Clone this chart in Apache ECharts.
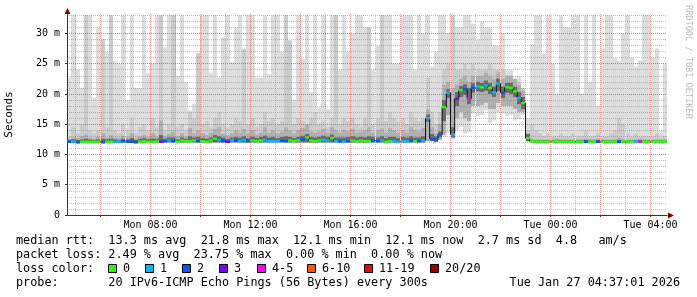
<!DOCTYPE html>
<html><head><meta charset="utf-8">
<script src="https://cdn.jsdelivr.net/npm/echarts@6/dist/echarts.min.js"></script>
<style>html,body{margin:0;padding:0;background:#fff}#c{width:697px;height:297px}</style>
</head><body><div id="c"></div>
<script>
// ---- time base (hours since Mon 00:00), one sample every 10 minutes ----
const startHour = 4.75;
const stepHours = 10 / 60;

// ---- median RTT (ms) ----
const median = [
12.1,12.1,12.0,12.1,12.1,12.1,12.1,12.1,12.0,12.1,
12.1,12.1,12.1,12.2,12.1,12.1,12.0,12.1,12.2,12.1,
12.1,12.2,12.1,12.2,12.3,12.2,12.1,12.3,12.2,12.2,
12.3,12.2,12.2,12.1,12.3,12.6,12.4,12.2,12.1,12.3,
12.3,12.2,12.4,12.2,12.3,12.2,12.3,12.4,12.2,12.2,
12.2,12.3,12.2,12.3,12.2,12.3,12.5,12.8,12.3,12.2,
12.3,12.4,12.3,12.7,12.2,12.2,12.1,12.2,12.3,12.2,
12.3,12.2,12.2,12.3,12.2,12.3,12.1,12.2,12.2,12.1,
12.2,12.2,12.3,12.2,12.2,12.3,16.0,12.6,12.4,13.3,
17.8,20.2,13.3,19.2,20.6,20.8,19.2,21.0,21.2,21.1,
21.4,21.0,20.3,21.7,20.2,21.1,21.0,20.4,19.3,18.5,
12.7,12.2,12.1,12.1,12.1,12.1,12.1,12.2,12.1,12.1,
12.1,12.1,12.1,12.1,12.1,12.1,12.1,12.1,12.1,12.1,
12.1,12.1,12.1,12.1,12.1,12.1,12.1,12.1,12.1,12.1,
12.1,12.1,12.1,12.1];

// ---- lost pings (of 20) per sample ----
const loss = [
2,1,2,0,0,0,0,0,2,0,
0,1,1,2,2,2,2,0,0,0,
0,0,3,2,1,2,0,0,0,0,
0,2,0,0,0,0,1,2,3,1,
2,1,1,2,0,0,0,1,1,1,
1,2,2,0,0,0,2,0,0,0,
0,1,1,0,1,2,1,2,0,0,
0,0,0,2,2,1,0,0,1,1,
1,1,2,0,2,1,1,2,2,2,
0,1,1,3,0,2,4,2,1,0,
1,0,1,1,2,0,0,0,1,0,
0,0,0,0,0,0,0,0,0,0,
0,0,0,0,2,0,0,2,0,0,
0,0,2,0,0,0,1,4,0,0,
0,0,0,0];

// ---- smoke: slowest / fastest ping (ms) ----
const smokeMax = [
22.7,33,24,21,33,33,19.4,31,29,27,
33,25.5,25,33,19,33,21,21,33,23.5,
25,33,33,27.7,33,33,23,33,22,17.3,
18.4,26.7,33,33,23.5,33,22.7,29.3,33,25.3,
31,33,27.4,33,33,22.7,22.7,33,23.3,33,
33,27,33,28.8,19,33,25.8,33,20.3,33,
17.8,33,17.5,33,33,24,33,27,30,33,
33,31,31,24,28,33,33,33,25,25,
33,33,33,24,33,30,33,24.5,27,33,
33,30,33,31,31,33,33,31.6,29,32,
31,31,28,28,30,24,24,22,23,21,
16,28.3,33,33,26.7,33,25,20,33,31,
31,33,33,20,33,22,33,18,27.5,33,
33,26,25.5,30,33,26,24.5,25.5,33,33,
26,27.5,14,25];

const smokeMin = [
12,12,12,12,12,12,12,12,12,12,
12,12,12,12,12,12,12,12,12,12,
12,12,12,12,12,12,12,12,12,12,
12,12,12,12,12,12,12,12,12,12,
12,12,12,12,12,12,12,12,12,12,
12,12,12,12,12,12,12,12,12,12,
12,12,12,12,12,12,12,12,12,12,
12,12,12,12,12,12,12,12,12,12,
12,12,12,12,12,12,12.2,12.2,12.1,12.3,
12.9,13.5,12.5,14.0,14.5,13.5,13.7,16.8,16.3,16.5,
17.3,15.2,15.6,16.9,16.8,16.3,16.5,15.6,15.8,16.5,
12.1,12,12,12,12,12,12,12,12,12,
12,12,12,12,12,12,12,12,12,12,
12,12,12,12,12,12,12,12,12,12,
12,12,12,12];

// ---- smoke: inner ping bands (ms) ----
const midLo = [
12,12,12,12,12,12,12,12,12,12,
12,12,12,12,12,12,12,12,12,12,
12,12,12,12,12,12,12,12,12,12,
12,12,12,12,12,12,12,12,12,12,
12,12,12,12,12,12,12,12,12,12,
12,12,12,12,12,12,12,12,12,12,
12,12,12,12,12,12,12,12,12,12,
12,12,12,12,12,12,12,12,12,12,
12,12,12,12,12,12,12.2,12.2,12.1,12.5,
13.3,16.5,12.8,16.0,17.0,16.0,15.5,18.0,18.0,18.2,
18.5,17.5,17.5,18.5,18.0,18.0,18.0,17.5,17.0,17.0,
12.2,12,12,12,12,12,12,12,12,12,
12,12,12,12,12,12,12,12,12,12,
12,12,12,12,12,12,12,12,12,12,
12,12,12,12];

const mid2Hi = [
13.0,14.5,13.5,15,33,14,13.5,14,29,14.5,
33,14,13.5,15,14,16,13.5,14.5,15,14,
16,14.5,33,14,15,33,14.5,15,14,17,
16,26.7,15,15.5,14.5,16,17,15,14.5,15,
16,15.5,27.4,15,16,14.5,15,17,15.5,16,
15,15.5,33,28.8,15,16,15.5,14.5,16,17,
15,15.5,14.5,16,33,15,16,15.5,16,15,
14.5,16,31,15,16,33,15.5,17,16,15.5,
16,15,17,16,15.5,16,22.7,17,15,17,
24,25,33,24,24,25,24,25,24,24,
24,25,24,24,24,23,23,22,22,21,
14,15,14,13.5,13,13.5,13,13,13.5,13,
13,13.5,13,13,14,13,13,13.5,13,13,
13.5,14,16,15,13.5,13,13.5,13,13,13,
13,13.5,12.8,13];

const mid3Hi = [
12.6,12.8,12.7,13,13.3,12.8,12.7,12.9,13.5,12.8,
13.2,12.8,12.7,13.1,12.9,13.5,12.7,13,13.2,12.9,
13.5,13,15.6,13,13.4,13.8,13,13.5,13,14.4,
13.5,14,13.5,13.2,13.6,14.2,14.5,13.4,13.2,13.5,
14,13.6,14.2,13.5,14,13.3,13.6,14.5,13.6,14,
13.5,13.8,14.5,14,13.5,14,14.4,15,13.8,13.6,
13.8,14.2,13.6,14.5,14,13.6,14,13.8,14.2,13.6,
13.8,14,14.5,13.6,14,14.3,13.6,14.4,14,13.6,
14,13.6,14.5,14,13.8,14.4,17.5,14.5,13.5,15,
21.5,22,21,21.5,22.5,23,22,23,23,23,
23.5,23,22.5,23.5,22.5,23,23,22.5,21.5,20.5,
13.3,12.6,12.5,12.5,12.5,12.5,12.5,12.6,12.5,12.5,
12.5,12.5,12.5,12.5,12.6,12.5,12.5,12.6,12.5,12.5,
12.5,12.5,12.8,12.6,12.5,12.5,12.5,12.6,12.5,12.5,
12.5,12.5,12.5,12.5];

const darkLo = [
12,12,12,12,12,12,12,12,12,12,
12,12,12,12,12,12,12,12,12,12,
12,12,12,12,12,12,12,12,12,12,
12,12,12,12,12,12,12,12,12,12,
12,12,12,12,12,12,12,12,12,12,
12,12,12,12,12,12,12,12,12,12,
12,12,12,12,12,12,12,12,12,12,
12,12,12,12,12,12,12,12,12,12,
12,12,12,12,12,12,15.4,12.2,12.1,12.8,
15.5,19.3,12.8,18.0,19.5,19.8,18.3,20.2,20.4,20.3,
20.5,20.0,19.5,20.5,19.3,20.2,20.0,19.5,18.3,17.5,
12.2,12,12,12,12,12,12,12,12,12,
12,12,12,12,12,12,12,12,12,12,
12,12,12,12,12,12,12,12,12,12,
12,12,12,12];

const darkHi = [
12.4,12.5,12.4,12.5,12.6,12.5,12.4,12.5,12.6,12.5,
12.6,12.5,12.4,12.6,12.5,12.7,12.4,12.6,12.7,12.5,
12.6,12.6,13.2,12.6,12.8,12.8,12.5,12.8,12.6,13.0,
12.8,12.9,12.7,12.6,12.8,13.2,13.0,12.8,12.6,12.8,
12.9,12.8,13.0,12.7,12.9,12.7,12.9,13.1,12.8,12.9,
12.7,12.9,13.0,12.9,12.7,12.9,13.1,13.4,12.9,12.8,
12.9,13.1,12.9,13.3,12.8,12.8,12.8,12.9,13.0,12.8,
12.9,12.8,13.0,12.9,12.8,13.0,12.7,12.9,12.9,12.7,
12.9,12.8,13.0,12.8,12.8,13.0,16.6,13.4,13.0,13.8,
19.0,20.8,14.5,20.3,21.3,21.6,21.0,21.8,22.0,21.8,
22.2,21.8,21.2,22.5,21.2,21.8,21.8,21.2,20.3,19.5,
13.4,12.4,12.3,12.3,12.3,12.3,12.3,12.4,12.3,12.3,
12.3,12.3,12.3,12.3,12.4,12.3,12.3,12.4,12.3,12.3,
12.3,12.3,12.4,12.3,12.3,12.3,12.3,12.4,12.3,12.3,
12.3,12.3,12.3,12.3];

// ---- axes ----
const xMin = 4.66, xMax = 28.66, yMax = 33.2;
const xLabelValues = [8, 12, 16, 20, 24, 28];
const xLabels = ['Mon 08:00', 'Mon 12:00', 'Mon 16:00', 'Mon 20:00', 'Tue 00:00', 'Tue 04:00'];
const xMajorGrid = [6, 8, 10, 12, 14, 16, 18, 20, 22, 24, 26, 28];
const xMinorGrid = [5, 7, 9, 11, 13, 15, 17, 19, 21, 23, 25, 27];
const yLabels = ['0', '5 m', '10 m', '15 m', '20 m', '25 m', '30 m'];

// ---- legend / stats ----
const lossColors = ['#26ff00', '#00b8ff', '#0059ff', '#7e00ff', '#ff00ff', '#ff5500', '#ff0000', '#a00000'];
const lossLabels = ['0', '1', '2', '3', '4-5', '6-10', '11-19', '20/20'];
const statLines = [
  'median rtt:  13.3 ms avg  21.8 ms max  12.1 ms min  12.1 ms now  2.7 ms sd  4.8   am/s',
  'packet loss: 2.49 % avg  23.75 % max  0.00 % min  0.00 % now',
  'loss color:',
  'probe:       20 IPv6-ICMP Echo Pings (56 Bytes) every 300s'
];
const stampText = 'Tue Jan 27 04:37:01 2026';

function lossClass(n) { return n <= 3 ? n : n <= 5 ? 4 : n <= 10 ? 5 : n <= 19 ? 6 : 7; }

const rows = median.map((m, i) => [startHour + i * stepHours, smokeMin[i], smokeMax[i], midLo[i], mid2Hi[i], mid3Hi[i], darkLo[i], darkHi[i], m, loss[i]]);

const mono = "'DejaVu Sans Mono', monospace";
const chart = echarts.init(document.getElementById('c'), null, { renderer: 'canvas' });

function colRange(api, t) {
  const xl = Math.round(api.coord([t - stepHours / 2, 0])[0]);
  const xr = Math.round(api.coord([t + stepHours / 2, 0])[0]);
  return [xl, xr];
}

function smokeItem(params, api) {
  const t = api.value(0);
  const [xl, xr] = colRange(api, t);
  const band = (lo, hi, color) => {
    const y1 = api.coord([t, hi])[1], y0 = api.coord([t, lo])[1];
    return { type: 'rect', shape: { x: xl, y: y1, width: xr - xl, height: y0 - y1 }, style: { fill: color } };
  };
  return {
    type: 'group',
    children: [
      band(api.value(1), api.value(2), '#dddddd'),
      band(api.value(3), api.value(4), '#cbcbcb'),
      band(api.value(3), api.value(5), '#b0b0b0'),
      band(api.value(6), api.value(7), '#6a6a6a')
    ]
  };
}

function medianItem(params, api) {
  const t = api.value(0);
  const [xl, xr] = colRange(api, t);
  const y = api.coord([t, api.value(8)])[1];
  return { type: 'rect', shape: { x: xl, y: y - 1.2, width: xr - xl, height: 2.4 },
           style: { fill: lossColors[lossClass(api.value(9))] } };
}

const graphics = [];
statLines.forEach((s, k) => {
  graphics.push({ type: 'text', x: 16, y: 241 + k * 14, z: 100,
    style: { text: s, font: '11.8px ' + mono, fill: '#000', verticalAlign: 'middle' } });
});
graphics.push({ type: 'text', x: 680, y: 283, z: 100,
  style: { text: stampText, font: '11.8px ' + mono, fill: '#000', align: 'right', verticalAlign: 'middle' } });
const boxX = [108, 145, 182, 219, 257, 307, 364, 430];
lossLabels.forEach((lab, k) => {
  graphics.push({ type: 'rect', z: 100, shape: { x: boxX[k] + 0.5, y: 264.5, width: 8, height: 8 },
    style: { fill: lossColors[k], stroke: '#000', lineWidth: 1 } });
  graphics.push({ type: 'text', z: 100, x: boxX[k] + 15, y: 269,
    style: { text: lab, font: '11.8px ' + mono, fill: '#000', verticalAlign: 'middle' } });
});
// axis arrows and watermark
graphics.push({ type: 'polygon', z: 100, shape: { points: [[67.5, 8], [64.5, 14], [70.5, 14]] }, style: { fill: '#7f0000' } });
graphics.push({ type: 'polygon', z: 100, shape: { points: [[674, 215.5], [668, 212.5], [668, 218.5]] }, style: { fill: '#7f0000' } });
graphics.push({ type: 'text', z: 100, x: 688, y: 5, rotation: -Math.PI / 2,
  style: { text: 'RRDTOOL / TOBI OETIKER', font: '8.6px ' + mono, fill: '#bdbdbd', align: 'left', verticalAlign: 'middle' } });

const option = {
  animation: false,
  backgroundColor: '#ffffff',
  grid: { left: 67, right: 30, top: 14, bottom: 82, containLabel: false, outerBoundsMode: 'none' },
  xAxis: [
    { type: 'value', min: xMin, max: xMax, z: 4,
      axisLine: { show: true, lineStyle: { color: '#333', width: 1 } },
      axisTick: { show: true, customValues: xMajorGrid, length: 2, lineStyle: { color: '#333' } },
      axisLabel: { customValues: xLabelValues, formatter: v => xLabels[xLabelValues.indexOf(v)] || '',
                   fontFamily: mono, fontSize: 10, color: '#000', margin: 5 },
      splitLine: { show: false } },
    { type: 'value', min: xMin, max: xMax, z: 2, position: 'bottom',
      axisLine: { show: false }, axisTick: { show: false, customValues: xMinorGrid }, axisLabel: { show: false },
      splitLine: { show: true, lineStyle: { color: 'rgba(120,120,120,0.45)', type: [1, 1], width: 1 } } },
    { type: 'value', min: xMin, max: xMax, z: 3, position: 'bottom',
      axisLine: { show: false }, axisTick: { show: false, customValues: xMajorGrid }, axisLabel: { show: false },
      splitLine: { show: true, lineStyle: { color: 'rgba(230,70,70,0.55)', type: [1, 1], width: 1 } } }
  ],
  yAxis: [
    { type: 'value', min: 0, max: yMax, interval: 5, z: 4,
      name: 'Seconds', nameLocation: 'middle', nameGap: 52, nameRotate: 90,
      nameTextStyle: { fontFamily: mono, fontSize: 11, color: '#000' },
      axisLine: { show: true, lineStyle: { color: '#333', width: 1 } },
      axisTick: { show: true, length: 2, lineStyle: { color: '#333' } },
      axisLabel: { formatter: v => yLabels[Math.round(v / 5)], showMaxLabel: false,
                   fontFamily: mono, fontSize: 10, color: '#000', margin: 7 },
      splitLine: { show: true, showMinLine: false, showMaxLine: false,
                   lineStyle: { color: 'rgba(230,70,70,0.55)', type: [1, 1], width: 1 } } },
    { type: 'value', min: 0, max: yMax, interval: 1, z: 2, position: 'left',
      axisLine: { show: false }, axisTick: { show: false }, axisLabel: { show: false },
      splitLine: { show: true, showMinLine: false, showMaxLine: false,
                   lineStyle: { color: 'rgba(120,120,120,0.45)', type: [1, 1], width: 1 } } }
  ],
  series: [
    { type: 'custom', name: 'smoke', z: 1, xAxisIndex: 0, yAxisIndex: 0, data: rows, renderItem: smokeItem,
      encode: { x: 0, y: [1, 2] }, silent: true },
    { type: 'line', name: 'median path', z: 5, xAxisIndex: 0, yAxisIndex: 0, step: 'middle', symbol: 'none',
      data: rows.map(r => [r[0], r[8]]), lineStyle: { color: '#111', width: 1 }, silent: true },
    { type: 'custom', name: 'median', z: 6, xAxisIndex: 0, yAxisIndex: 0, data: rows, renderItem: medianItem,
      encode: { x: 0, y: 8 }, silent: true }
  ],
  graphic: graphics
};
chart.setOption(option);
</script></body></html>
